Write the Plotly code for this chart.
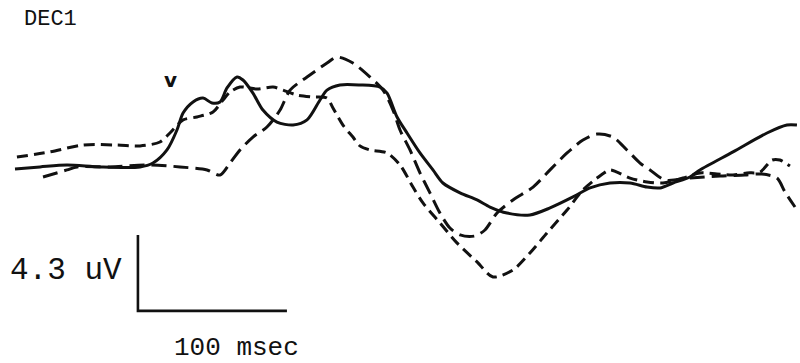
import plotly.graph_objects as go

# Averaged evoked responses (time in msec, amplitude in uV)
t_solid = [0.0, 16.8, 34.9, 57.0, 83.9, 92.6, 102.0, 108.7, 112.8, 119.5, 126.2, 132.2,
           137.6, 142.3, 149.0, 153.0, 159.7, 166.4, 175.8, 186.6, 196.0, 204.7, 209.4,
           218.1, 231.5, 245.0, 249.7, 256.4, 263.1, 271.8, 280.5, 287.2, 298.7, 310.1,
           318.8, 330.2, 345.6, 359.1, 374.5, 385.9, 399.3, 412.8, 424.2, 432.9, 441.6,
           453.0, 459.7, 481.9, 504.7, 518.1, 524.8]
v_solid = [-0.23, -0.11, 0.0, -0.11, -0.11, 0.11, 0.85, 1.98, 2.94, 3.57, 3.79, 3.51,
           3.57, 4.36, 4.98, 4.81, 4.07, 3.11, 2.43, 2.26, 2.55, 3.68, 4.24,
           4.53, 4.53, 4.41, 4.07, 2.72, 1.81, 0.68, -0.28, -1.02, -1.58, -1.98,
           -2.38, -2.72, -2.83, -2.43, -1.81, -1.30, -1.02, -1.02, -1.25, -1.30, -1.02,
           -0.68, -0.28, 0.74, 1.81, 2.26, 2.26]

t_long = [18.8, 34.9, 41.6, 63.8, 90.6, 110.7, 128.9, 137.6, 144.3, 151.0, 159.7, 169.1,
          177.9, 184.6, 196.0, 209.4, 216.1, 226.8, 238.3, 247.0, 253.7, 258.4, 265.1,
          271.8, 278.5, 285.2, 291.9, 298.7, 308.7, 315.4, 323.5, 334.2, 347.7, 359.1,
          370.5, 381.2, 390.6, 401.3, 410.7, 419.5, 426.2, 436.2, 453.0, 473.2, 489.9,
          501.3, 511.4, 516.8, 523.5]
v_long = [-0.68, -0.28, -0.11, -0.11, 0.0, -0.11, -0.28, -0.57, 0.11, 0.85, 1.58, 2.15,
          3.11, 4.24, 4.98, 5.77, 6.11, 5.77, 4.98, 4.24, 3.11, 1.98, 0.85,
          -0.45, -1.58, -2.72, -3.57, -3.96, -4.02, -3.68, -2.72, -1.98, -1.25, -0.28,
          0.68, 1.41, 1.75, 1.58, 0.85, 0.11, -0.28, -0.85, -0.74, -0.62, -0.57,
          -0.51, -0.74, -1.53, -2.38]

t_short = [1.3, 23.5, 45.6, 68.5, 83.9, 97.3, 104.0, 112.8, 122.1, 132.9, 139.6, 144.3,
           151.0, 162.4, 173.2, 179.9, 189.3, 200.0, 209.4, 213.4, 220.1, 226.8, 231.5,
           238.3, 249.7, 258.4, 267.1, 273.8, 285.2, 296.6, 310.1, 320.8, 334.2, 345.6,
           357.0, 370.5, 381.2, 390.6, 399.3, 404.0, 412.8, 424.2, 434.9, 448.3, 459.7,
           471.1, 481.9, 491.3, 500.0, 508.1, 513.4, 520.1]
v_short = [0.45, 0.74, 1.13, 1.13, 1.08, 1.30, 1.81, 2.55, 2.72, 3.00, 3.68, 4.13,
           4.41, 4.30, 4.41, 4.24, 3.96, 3.85, 3.79, 3.23, 2.26, 1.58, 1.08,
           0.85, 0.68, 0.0, -1.25, -2.15, -3.28, -4.41, -5.49, -6.34, -5.94, -4.98,
           -3.85, -2.55, -1.41, -0.74, -0.28, -0.40, -0.74, -0.96, -1.02, -0.74, -0.45,
           -0.51, -0.57, -0.45, -0.40, 0.28, 0.28, -0.06]

# Calibration bar: 100 msec by 4.3 uV
bar_t0 = 82.5
bar_v0 = -8.26
bar_ms = 100
bar_uv = 4.3

ink = "#111111"
mono = "Liberation Mono, Courier New, monospace"
smooth = dict(color=ink, width=3, shape="spline", smoothing=0.8)

fig = go.Figure()
fig.add_trace(go.Scatter(x=t_solid, y=v_solid, mode="lines", line=smooth))
fig.add_trace(go.Scatter(x=t_long, y=v_long, mode="lines",
                         line=dict(smooth, dash="15px,7px")))
fig.add_trace(go.Scatter(x=t_short, y=v_short, mode="lines",
                         line=dict(smooth, dash="11px,6px")))
fig.add_trace(go.Scatter(x=[bar_t0, bar_t0, bar_t0 + bar_ms],
                         y=[bar_v0 + bar_uv, bar_v0, bar_v0],
                         mode="lines", line=dict(color=ink, width=2.6)))

labels = [
    ("DEC1", 0.0625, 0.945, mono, 22),
    ("<b>v</b>", 0.213, 0.78, "DejaVu Sans", 20),
    ("4.3 uV", 0.083, 0.256, mono, 31),
    ("100 msec", 0.296, 0.041, mono, 26),
]
for text, xp, yp, fam, size in labels:
    fig.add_annotation(text=text, xref="paper", yref="paper", x=xp, y=yp,
                       xanchor="center", yanchor="middle", showarrow=False,
                       font=dict(family=fam, size=size, color=ink))

fig.update_layout(
    width=800, height=363, margin=dict(l=0, r=0, t=0, b=0),
    paper_bgcolor="white", plot_bgcolor="white", showlegend=False,
    xaxis=dict(range=[-10.07, 526.85], visible=False, fixedrange=True),
    yaxis=dict(range=[-11.21, 9.34], visible=False, fixedrange=True),
)
fig.write_html("out.html", config={"displayModeBar": False})
